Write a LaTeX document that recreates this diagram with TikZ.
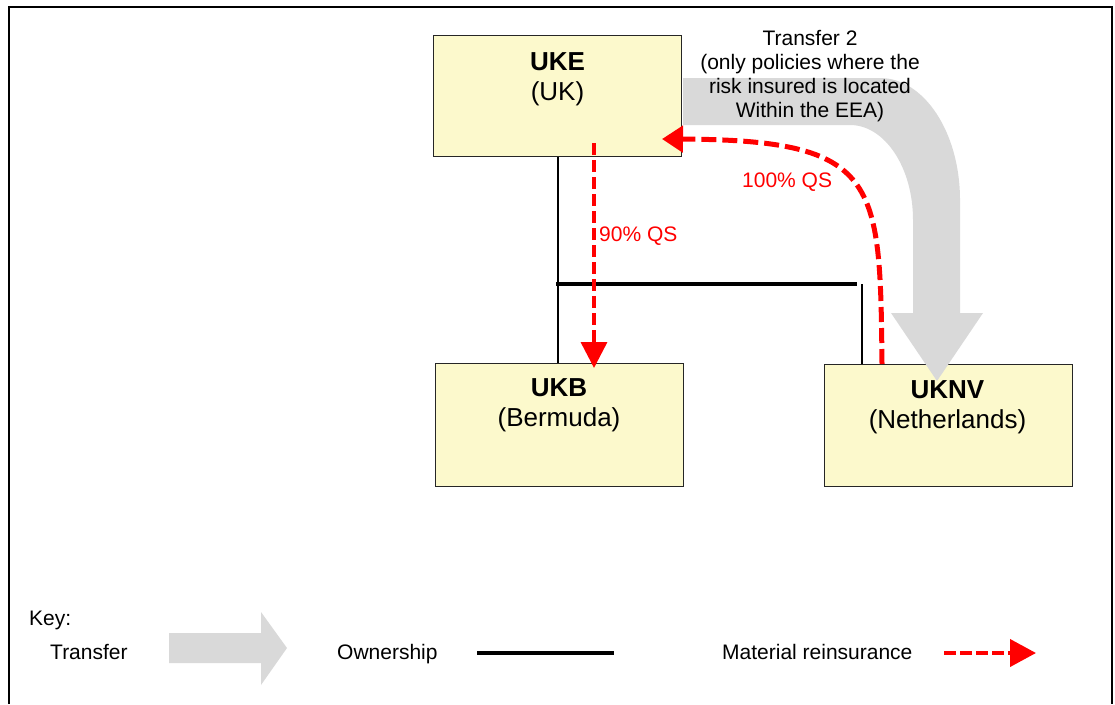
\documentclass[tikz,border=0pt]{standalone}
\usepackage{fontspec}
\setmainfont{Liberation Sans}
\usetikzlibrary{arrows.meta}
\definecolor{boxfill}{RGB}{252,249,204}
\definecolor{xfer}{RGB}{217,217,217}
\definecolor{reinsred}{RGB}{255,0,0}
\begin{document}
\begin{tikzpicture}[x=1pt,y=1pt,
  entity/.style={draw=black!85, line width=1.3pt, fill=boxfill, minimum width=248pt, minimum height=122pt, inner sep=0pt, anchor=north west},
  boxlbl/.style={align=center, font=\fontsize{26}{30.5}\selectfont, inner sep=0pt, anchor=north},
  small/.style={font=\fontsize{21}{24}\selectfont, inner sep=0pt},
  own/.style={draw=black, line width=2pt},
  ownthick/.style={draw=black, line width=4pt},
  reins/.style={draw=reinsred, line width=3.5pt, dash pattern=on 12pt off 5pt, -{Triangle[length=26pt,width=26pt]}},
  reinsbig/.style={draw=reinsred, line width=5pt, dash pattern=on 15pt off 6pt, -{Triangle[length=21pt,width=26pt]}},
  transfer/.style={fill=xfer, draw=none}]
\useasboundingbox (0,0) rectangle (1115,-704);
% frame
\draw[line width=2pt] (8.5,-704) -- (8.5,-7) -- (1112,-7) -- (1112,-704);

% entities
\node[entity, minimum height=121pt] (uke) at (433,-35) {};
\node[entity, minimum height=123pt] (ukb) at (435,-363) {};
\node[entity, minimum height=122pt] (uknv) at (824,-364) {};

% transfer 2 (big curved grey arrow)
\fill[transfer] (683,-78) -- (880,-78)
  arc[start angle=90, end angle=0, x radius=80pt, y radius=122pt]
  -- (960,-313) -- (983,-313) -- (937,-381) -- (891,-313) -- (913,-313)
  -- (913,-220)
  arc[start angle=0, end angle=90, x radius=63pt, y radius=95pt]
  -- (683,-125) -- cycle;

% box labels
\node[boxlbl] (ukelbl) at (557.5,-52.4) {\textbf{UKE}\\(UK)};
\node[boxlbl] (ukblbl) at (559,-378.4) {\textbf{UKB}\\(Bermuda)};
\node[boxlbl] (uknvlbl) at (947.5,-380.4) {\textbf{UKNV}\\(Netherlands)};

% transfer text
\node[small, align=center, anchor=north] (t2) at (810,-30) {Transfer 2\\(only policies where the\\risk insured is located\\Within the EEA)};

% ownership
\coordinate (jl) at (556,-284);
\coordinate (jr) at (857,-284);
\coordinate (jr2) at (862,-284);
\draw[own] (uke.south) -- (uke.south |- ukb.north);
\draw[ownthick] (jl) -- (jr);
\draw[own] (jr2) -- (jr2 |- uknv.north);

% reinsurance
\coordinate (r1s) at (594,-143);
\coordinate (r1e) at (594,-368);
\draw[reins] (r1s) -- (r1e);
\coordinate (r2s) at (882,-364);
\coordinate (r2e) at (662,-139);
\draw[reinsbig] (r2s) .. controls (880,-180) and (880,-140) .. (r2e);
\node[small, text=reinsred, anchor=base west] (qs90) at (599,-241) {90\% QS};
\node[small, text=reinsred, anchor=base west] (qs100) at (742,-187) {100\% QS};

% key
\node[small, anchor=base west] (key) at (29,-625) {Key:};
\node[small, anchor=base west] (ktr) at (50,-659) {Transfer};
\fill[transfer] (169,-633) -- (261,-633) -- (261,-612) -- (287,-648) -- (261,-685) -- (261,-663) -- (169,-663) -- cycle;
\node[small, anchor=base west] (kown) at (337,-659) {Ownership};
\coordinate (ko1) at (477,-652.5);
\coordinate (ko2) at (614,-652.5);
\draw[ownthick] (ko1) -- (ko2);
\node[small, anchor=base west] (kre) at (722,-659) {Material reinsurance};
\coordinate (kr1) at (944,-653);
\coordinate (kr2) at (1036,-653);
\draw[draw=reinsred, line width=4pt, dash pattern=on 12pt off 4pt, -{Triangle[length=26pt,width=27pt]}] (kr1) -- (kr2);
\end{tikzpicture}
\end{document}
